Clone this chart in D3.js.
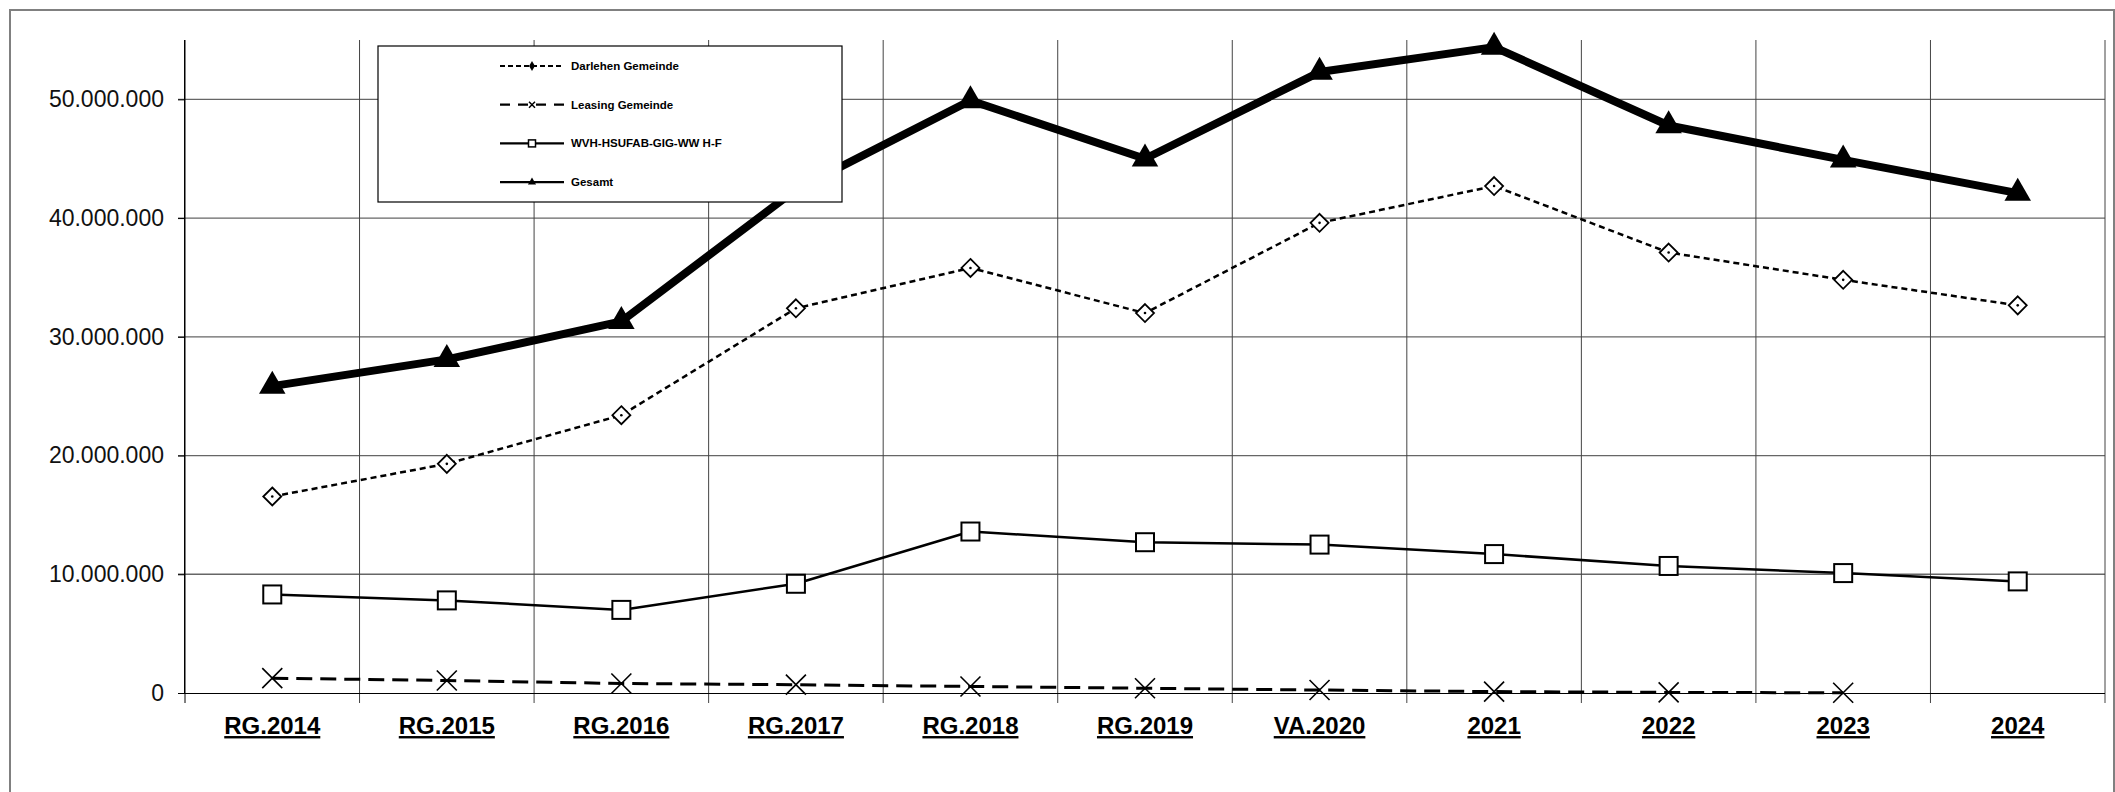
<!DOCTYPE html>
<html>
<head>
<meta charset="utf-8">
<script src="https://cdn.jsdelivr.net/npm/d3@7"></script>
<style>
    body { margin: 0; background: #fff; }
    svg { display: block; font-family: "Liberation Sans", Arial, sans-serif; }
</style>
</head>
<body>
<script>
// chart data
const categories = ["RG.2014", "RG.2015", "RG.2016", "RG.2017", "RG.2018", "RG.2019", "VA.2020", "2021", "2022", "2023", "2024"];
const darlehen = [16.55e6, 19.3e6, 23.4e6, 32.4e6, 35.8e6, 32.0e6, 39.6e6, 42.7e6, 37.1e6, 34.8e6, 32.65e6];
const leasing = [1.25e6, 1.05e6, 0.8e6, 0.7e6, 0.55e6, 0.4e6, 0.25e6, 0.12e6, 0.05e6, 0.02e6, null];
const wvh = [8.3e6, 7.8e6, 7.0e6, 9.2e6, 13.6e6, 12.7e6, 12.5e6, 11.7e6, 10.7e6, 10.1e6, 9.4e6];
const gesamt = [25.85e6, 28.1e6, 31.3e6, 42.4e6, 49.9e6, 45.0e6, 52.3e6, 54.4e6, 47.8e6, 44.9e6, 42.1e6];
const yTicks = [0, 10e6, 20e6, 30e6, 40e6, 50e6];

const width = 2115, height = 792;
const margin = { top: 40, right: 10, bottom: 99, left: 185 };

const svg = d3.select("body").append("svg")
    .attr("width", width)
    .attr("height", height);

// outer frame
svg.append("rect")
    .attr("x", 10).attr("y", 10)
    .attr("width", 2104).attr("height", 800)
    .attr("fill", "none")
    .attr("stroke", "#808080")
    .attr("stroke-width", 2);

const x = d3.scaleBand()
    .domain(categories)
    .range([margin.left, width - margin.right])
    .padding(0);

const y = d3.scaleLinear()
    .domain([0, 55e6])
    .range([height - margin.bottom, margin.top]);

const de = d3.formatLocale({ decimal: ",", thousands: ".", grouping: [3], currency: ["", " €"] });
const fmt = de.format(",.0f");

const plotBottom = y(0), plotTop = y(55e6);
const cx = d => x(d) + x.bandwidth() / 2;

// horizontal grid lines
svg.append("g")
    .selectAll("line")
    .data(yTicks.filter(t => t > 0))
    .enter().append("line")
    .attr("x1", margin.left - 7)
    .attr("x2", width - margin.right)
    .attr("y1", d => y(d))
    .attr("y2", d => y(d))
    .attr("stroke", "#666")
    .attr("stroke-width", 1.3);

// vertical grid lines between categories
const bounds = categories.map(c => x(c)).concat([x.range()[1]]);
svg.append("g")
    .selectAll("line")
    .data(bounds.slice(1))
    .enter().append("line")
    .attr("x1", d => d).attr("x2", d => d)
    .attr("y1", plotTop)
    .attr("y2", plotBottom + 10)
    .attr("stroke", "#444")
    .attr("stroke-width", 1);

// y axis
const yAxis = d3.axisLeft(y).tickValues(yTicks).tickFormat(fmt).tickSize(7).tickPadding(14);
const gy = svg.append("g")
    .attr("transform", `translate(${margin.left},0)`)
    .call(yAxis);
gy.select(".domain").attr("d", `M-0.5,${plotTop}V${plotBottom}`).attr("stroke", "#000");
gy.selectAll(".tick line").attr("stroke", "#000");
gy.selectAll(".tick text")
    .attr("font-size", 23)
    .attr("font-family", "Liberation Sans, Arial, sans-serif")
    .attr("fill", "#111");

// x axis
const xAxis = d3.axisBottom(x).tickSize(0).tickPadding(24);
const gx = svg.append("g")
    .attr("transform", `translate(0,${plotBottom})`)
    .call(xAxis);
gx.select(".domain").attr("d", `M${margin.left},0.5H${width - margin.right}`).attr("stroke", "#000");
gx.selectAll(".tick text")
    .attr("font-size", 24)
    .attr("font-weight", "bold")
    .attr("font-family", "Liberation Sans, Arial, sans-serif")
    .attr("fill", "#000")
    .style("text-decoration", "underline");
gx.append("line")
    .attr("x1", margin.left).attr("x2", margin.left)
    .attr("y1", -plotBottom + plotTop).attr("y2", 10)
    .attr("stroke", "#000");

// series
const series = [
    { name: "Darlehen Gemeinde", values: darlehen, dash: "6,4", width: 2.5, marker: "diamond" },
    { name: "Leasing Gemeinde", values: leasing, dash: "16,8", width: 3, marker: "cross" },
    { name: "WVH-HSUFAB-GIG-WW H-F", values: wvh, dash: null, width: 2.5, marker: "square" },
    { name: "Gesamt", values: gesamt, dash: null, width: 8, marker: "triangle" }
];

const line = d3.line()
    .defined(d => d.v != null)
    .x(d => cx(d.c))
    .y(d => y(d.v));

function drawMarker(g, kind, size) {
    const h = size / 2;
    if (kind === "diamond") {
        g.append("path")
            .attr("d", `M0,${-h}L${h},0L0,${h}L${-h},0Z`)
            .attr("fill", "#fff").attr("stroke", "#000").attr("stroke-width", 1.8);
        g.append("circle").attr("r", 1.3).attr("fill", "#000");
    } else if (kind === "cross") {
        g.append("path")
            .attr("d", `M${-h},${-h}L${h},${h}M${-h},${h}L${h},${-h}`)
            .attr("stroke", "#000").attr("stroke-width", 1.6).attr("fill", "none");
    } else if (kind === "square") {
        g.append("rect")
            .attr("x", -h).attr("y", -h)
            .attr("width", size).attr("height", size)
            .attr("fill", "#fff").attr("stroke", "#000").attr("stroke-width", 2);
    } else if (kind === "triangle") {
        g.append("path")
            .attr("d", d3.symbol(d3.symbolTriangle, size * size * 0.45)())
            .attr("fill", "#000");
    }
}

const markerSize = { diamond: 18, cross: 20, square: 18, triangle: 26 };

series.forEach(s => {
    const pts = s.values.map((v, i) => ({ c: categories[i], v: v }));
    svg.append("path")
        .datum(pts)
        .attr("fill", "none")
        .attr("stroke", "#000")
        .attr("stroke-width", s.width)
        .attr("stroke-dasharray", s.dash)
        .attr("stroke-linejoin", "round")
        .attr("d", line);
    svg.append("g")
        .selectAll("g")
        .data(pts.filter(d => d.v != null))
        .enter().append("g")
        .attr("transform", d => `translate(${cx(d.c)},${y(d.v)})`)
        .each(function() { drawMarker(d3.select(this), s.marker, markerSize[s.marker]); });
});

// legend
const legend = svg.append("g").attr("transform", "translate(378,46)");
legend.append("rect")
    .attr("width", 464).attr("height", 156)
    .attr("fill", "#fff").attr("stroke", "#000").attr("stroke-width", 1.2);

const legendMarker = { diamond: 7, cross: 6, square: 7, triangle: 8 };
series.forEach((s, i) => {
    const ly = 20 + i * 38.7;
    const row = legend.append("g").attr("transform", `translate(0,${ly})`);
    row.append("line")
        .attr("x1", 122).attr("x2", 186)
        .attr("y1", 0).attr("y2", 0)
        .attr("stroke", "#000")
        .attr("stroke-width", 2.2)
        .attr("stroke-dasharray", s.dash ? (s.marker === "cross" ? "10,8" : "5,3") : null);
    const m = row.append("g").attr("transform", "translate(154,0)");
    const k = legendMarker[s.marker];
    if (s.marker === "diamond") {
        m.append("path").attr("d", d3.symbol(d3.symbolDiamond, k * k * 0.6)()).attr("fill", "#000");
    } else if (s.marker === "cross") {
        m.append("path").attr("d", `M-3,-3L3,3M-3,3L3,-3`).attr("stroke", "#000").attr("stroke-width", 1.5);
    } else if (s.marker === "square") {
        m.append("rect").attr("x", -3.5).attr("y", -3.5).attr("width", 7).attr("height", 7)
            .attr("fill", "#fff").attr("stroke", "#000").attr("stroke-width", 1.5);
    } else {
        m.append("path").attr("d", d3.symbol(d3.symbolTriangle, k * k * 0.45)()).attr("fill", "#000");
    }
    row.append("text")
        .attr("x", 193)
        .attr("y", 0)
        .attr("dy", "0.35em")
        .attr("font-size", 11.5)
        .attr("font-weight", "bold")
        .attr("fill", "#000")
        .text(s.name);
});
</script>
</body>
</html>
